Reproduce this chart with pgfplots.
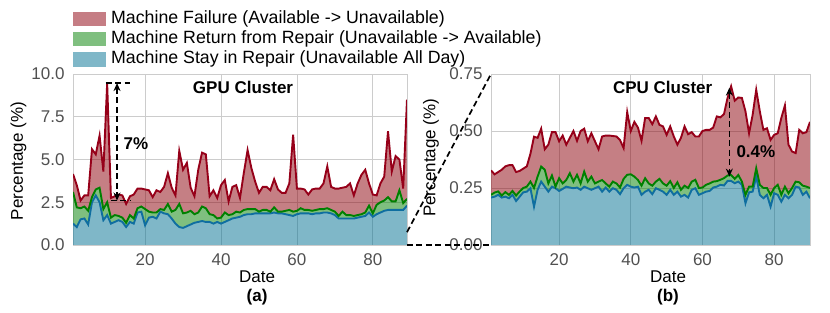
\documentclass[border=0pt]{standalone}
\usepackage{fontspec}
\setmainfont{Liberation Sans}
\usepackage{pgfplots}
\pgfplotsset{compat=1.18}
\usepackage{pgfplotstable}
\usepgfplotslibrary{fillbetween}
\usetikzlibrary{arrows.meta,calc}

\definecolor{redline}{RGB}{150,0,25}
\definecolor{redfill}{RGB}{140,0,10}
\definecolor{greenline}{RGB}{0,128,0}
\definecolor{blueline}{RGB}{15,110,160}
\definecolor{bluefill}{RGB}{0,112,146}
\definecolor{gridc}{RGB}{204,204,204}
\definecolor{tickc}{RGB}{80,80,80}
\definecolor{legred}{RGB}{197,125,132}
\definecolor{leggreen}{RGB}{127,191,127}
\definecolor{legblue}{RGB}{127,183,200}

\newcommand\fs{\fontsize{17}{20}\selectfont}

\pgfplotstableread{
x B G R
1 1.25 3.1 4.15
2 1.05 2.2 3.5
3 1.5 2.15 2.6
4 1.55 2.25 2.9
5 1.2 2.0 2.9
6 2.5 2.8 5.6
7 2.9 3.25 5.3
8 2.5 3.35 6.4
9 1.45 2.1 4.3
10 1.75 2.5 9.45
11 1.25 1.6 2.75
12 1.35 1.75 2.85
13 1.45 1.7 2.95
14 1.35 1.6 2.9
15 1.05 1.3 2.4
16 1.35 1.75 2.85
17 1.25 1.55 2.95
18 1.9 2.15 3.3
19 1.95 2.25 3.3
20 1.15 2.1 3.25
21 1.6 1.95 3.2
22 1.65 1.9 2.8
23 1.55 1.9 3.2
24 1.95 2.1 3.1
25 1.85 2.05 3.4
26 1.8 2.4 4.2
27 1.55 1.95 3.35
28 1.25 2.05 2.9
29 1.05 2.4 5.5
30 1.0 1.85 4.4
31 1.1 1.9 4.8
32 1.2 2.0 3.35
33 1.3 1.8 2.85
34 1.35 1.9 4.4
35 1.4 2.25 5.4
36 1.35 2.15 5.3
37 1.35 1.8 2.85
38 1.25 1.75 3.2
39 1.35 1.55 2.75
40 1.25 1.6 3.5
41 1.35 1.9 3.8
42 1.45 1.75 2.55
43 1.55 1.8 3.4
44 1.6 1.95 3.5
45 1.65 1.9 2.75
46 1.75 2.05 4.2
47 1.8 2.1 5.55
48 1.8 2.1 4.5
49 1.85 2.1 3.7
50 1.85 1.95 3.05
51 1.85 2.05 3.4
52 1.85 2.05 3.4
53 1.85 1.95 3.2
54 1.9 2.2 3.85
55 1.85 1.95 3.25
56 1.85 1.95 3.05
57 1.8 2.0 3.05
58 1.75 2.05 3.6
59 1.7 1.95 6.45
60 1.8 2.0 3.3
61 1.85 2.15 3.3
62 1.85 2.05 3.25
63 1.85 2.05 2.95
64 1.8 2.0 3.25
65 1.85 2.05 3.3
66 1.85 2.1 3.3
67 1.9 2.1 3.6
68 1.9 2.15 4.6
69 1.85 2.05 3.4
70 1.75 1.95 3.3
71 1.55 1.7 3.3
72 1.55 1.95 3.35
73 1.55 1.75 3.4
74 1.55 1.75 3.6
75 1.55 1.7 2.9
76 1.6 1.75 3.6
77 1.65 1.8 4.1
78 1.7 1.9 4.4
79 1.9 2.3 3.6
80 1.65 1.85 2.95
81 1.8 2.35 2.9
82 1.9 2.5 3.6
83 2.0 2.6 4.0
84 2.05 2.8 6.65
85 2.05 2.55 4.3
86 2.05 2.55 5.2
87 2.05 3.2 5.0
88 2.05 2.45 3.3
89 2.3 2.7 8.5
}\gputab

\pgfplotstableread{
x B G R
1 0.208 0.22 0.327
2 0.212 0.23 0.31
3 0.22 0.235 0.32
4 0.208 0.217 0.33
5 0.212 0.232 0.345
6 0.205 0.22 0.35
7 0.22 0.237 0.35
8 0.193 0.217 0.32
9 0.212 0.235 0.325
10 0.231 0.25 0.335
11 0.234 0.256 0.345
12 0.249 0.278 0.40
13 0.168 0.25 0.475
14 0.242 0.30 0.47
15 0.278 0.344 0.51
16 0.256 0.33 0.42
17 0.234 0.27 0.44
18 0.256 0.305 0.495
19 0.249 0.256 0.495
20 0.237 0.293 0.455
21 0.246 0.27 0.48
22 0.256 0.285 0.44
23 0.252 0.315 0.47
24 0.249 0.278 0.50
25 0.252 0.308 0.457
26 0.242 0.27 0.50
27 0.256 0.322 0.51
28 0.249 0.278 0.455
29 0.242 0.30 0.49
30 0.249 0.27 0.455
31 0.256 0.278 0.42
32 0.234 0.285 0.476
33 0.252 0.27 0.48
34 0.234 0.256 0.48
35 0.249 0.278 0.478
36 0.242 0.27 0.476
37 0.223 0.252 0.46
38 0.249 0.29 0.425
39 0.264 0.308 0.583
40 0.256 0.31 0.50
41 0.252 0.30 0.54
42 0.256 0.285 0.515
43 0.22 0.26 0.457
44 0.234 0.293 0.557
45 0.242 0.27 0.557
46 0.223 0.26 0.53
47 0.249 0.278 0.564
48 0.242 0.29 0.527
49 0.234 0.27 0.52
50 0.22 0.26 0.483
51 0.242 0.28 0.52
52 0.22 0.25 0.476
53 0.234 0.275 0.44
54 0.212 0.242 0.47
55 0.22 0.26 0.52
56 0.208 0.25 0.486
57 0.242 0.278 0.495
58 0.249 0.286 0.476
59 0.22 0.25 0.476
60 0.227 0.252 0.50
61 0.234 0.264 0.505
62 0.237 0.27 0.505
63 0.252 0.278 0.515
64 0.256 0.28 0.564
65 0.264 0.286 0.56
66 0.261 0.293 0.574
67 0.281 0.305 0.645
68 0.281 0.307 0.696
69 0.271 0.29 0.633
70 0.278 0.307 0.647
71 0.264 0.278 0.645
72 0.183 0.22 0.586
73 0.231 0.256 0.49
74 0.234 0.256 0.571
75 0.30 0.337 0.681
76 0.22 0.264 0.586
77 0.205 0.25 0.505
78 0.22 0.25 0.512
79 0.168 0.22 0.461
80 0.227 0.25 0.483
81 0.22 0.264 0.49
82 0.19 0.22 0.557
83 0.22 0.256 0.612
84 0.205 0.227 0.44
85 0.22 0.25 0.41
86 0.256 0.278 0.403
87 0.252 0.275 0.505
88 0.22 0.26 0.49
89 0.234 0.256 0.495
90 0.205 0.25 0.54
}\cputab

\tikzset{ann/.style={black, dash pattern=on 6pt off 3.5pt, line width=1.7pt}}

\pgfplotsset{
  panel/.style={
    scale only axis, height=171pt, xmin=1, ymin=0,
    clip mode=individual,
    grid=major, grid style={gridc, line width=0.8pt},
    axis line style={gridc, line width=0.8pt},
    major tick length=0pt,
    tick label style={font=\fs, text=tickc},
    yticklabel style={xshift=-5pt},
    xticklabel style={yshift=-5pt},
    xtick={20,40,60,80}, xticklabels={20,40,60,80},
    label style={font=\fs},
    xlabel={Date},
  },
  lineB/.style={blueline, line width=1.9pt, forget plot},
  lineG/.style={greenline, line width=1.9pt, forget plot},
  lineR/.style={redline, line width=1.9pt, forget plot},
}

\begin{document}
\begin{tikzpicture}

\begin{axis}[panel, name=L, at={(73pt,68pt)}, anchor=south west,
  width=334pt, xmax=89, ymax=10,
  ytick={0,2.5,5,7.5,10}, yticklabels={0.0,2.5,5.0,7.5,10.0},
  ylabel={Percentage (\%)},
  ylabel style={at={(axis description cs:-0.163,0.49)}, anchor=center},
  xlabel style={at={(axis description cs:0.551,-0.187)}, anchor=center},
  legend style={at={(axis description cs:0,1.380)}, anchor=north west,
    draw=none, fill=none, font=\fontsize{17.75}{21}\selectfont,
    cells={anchor=west}, nodes={inner sep=1pt, text height=13pt, text depth=4pt},
    row sep=1.3pt, column sep=4pt, inner sep=0pt},
  legend image code/.code={\fill[#1,draw=none] (0pt,-7.2pt) rectangle (33pt,7.2pt);},
]
\addlegendimage{fill=legred}
\addlegendentry{Machine Failure (Available -> Unavailable)}
\addlegendimage{fill=leggreen}
\addlegendentry{Machine Return from Repair (Unavailable -> Available)}
\addlegendimage{fill=legblue}
\addlegendentry{Machine Stay in Repair (Unavailable All Day)}

\addplot[draw=none, name path=Z, forget plot] coordinates {(1,0) (89,0)};
\addplot[draw=none, name path=B, forget plot] table[x=x,y=B]{\gputab};
\addplot[draw=none, name path=G, forget plot] table[x=x,y=G]{\gputab};
\addplot[draw=none, name path=R, forget plot] table[x=x,y=R]{\gputab};
\addplot[fill=bluefill, fill opacity=0.5, draw=none, forget plot] fill between[of=B and Z];
\addplot[fill=greenline, fill opacity=0.5, draw=none, forget plot] fill between[of=G and B];
\addplot[fill=redfill, fill opacity=0.5, draw=none, forget plot] fill between[of=R and G];
\addplot[lineB] table[x=x,y=B]{\gputab};
\addplot[lineG] table[x=x,y=G]{\gputab};
\addplot[lineR] table[x=x,y=R]{\gputab};

\draw[ann] (axis cs:9.6,9.47) -- (axis cs:16.1,9.47);
\draw[ann] (axis cs:10.9,2.6) -- (axis cs:16.1,2.6);
\draw[ann, {Stealth[length=8pt,width=7pt]}-{Stealth[length=8pt,width=7pt]}] (axis cs:12.6,9.47) -- (axis cs:12.6,2.6);
\node[font=\bfseries\fs] at (axis cs:17.6,5.9) {7\%};
\node[font=\bfseries\fs] at (axis cs:45.8,9.2) {GPU Cluster};
\node[font=\bfseries\fs] at (axis description cs:0.551,-0.304) {(a)};
\end{axis}

\begin{axis}[panel, name=R, at={(491pt,68pt)}, anchor=south west,
  width=319pt, xmax=90, ymax=0.75,
  ytick={0,0.25,0.5,0.75}, yticklabels={0.00,0.25,0.50,0.75},
  ylabel={Percentage (\%)},
  ylabel style={at={(axis description cs:-0.188,0.51)}, anchor=center},
  xlabel style={at={(axis description cs:0.555,-0.187)}, anchor=center},
]
\addplot[draw=none, name path=Z, forget plot] coordinates {(1,0) (90,0)};
\addplot[draw=none, name path=B, forget plot] table[x=x,y=B]{\cputab};
\addplot[draw=none, name path=G, forget plot] table[x=x,y=G]{\cputab};
\addplot[draw=none, name path=R, forget plot] table[x=x,y=R]{\cputab};
\addplot[fill=bluefill, fill opacity=0.5, draw=none, forget plot] fill between[of=B and Z];
\addplot[fill=greenline, fill opacity=0.5, draw=none, forget plot] fill between[of=G and B];
\addplot[fill=redfill, fill opacity=0.5, draw=none, forget plot] fill between[of=R and G];
\addplot[lineB] table[x=x,y=B]{\cputab};
\addplot[lineG] table[x=x,y=G]{\cputab};
\addplot[lineR] table[x=x,y=R]{\cputab};

\draw[ann, {Stealth[length=8pt,width=7pt]}-{Stealth[length=8pt,width=7pt]}] (axis cs:67.5,0.69) -- (axis cs:67.5,0.30);
\node[font=\bfseries\fs] at (axis cs:74.9,0.41) {0.4\%};
\node[font=\bfseries\fs] at (axis cs:48.9,0.69) {CPU Cluster};
\node[font=\bfseries\fs] at (axis description cs:0.555,-0.304) {(b)};
\end{axis}

\draw[ann] (L.south east) -- (R.south west);
\draw[ann] ($(L.south east)!0.075!(L.north east)$) -- (R.north west);
\pgfresetboundingbox
\useasboundingbox (0,0) rectangle (830pt,313pt);
\end{tikzpicture}
\end{document}
